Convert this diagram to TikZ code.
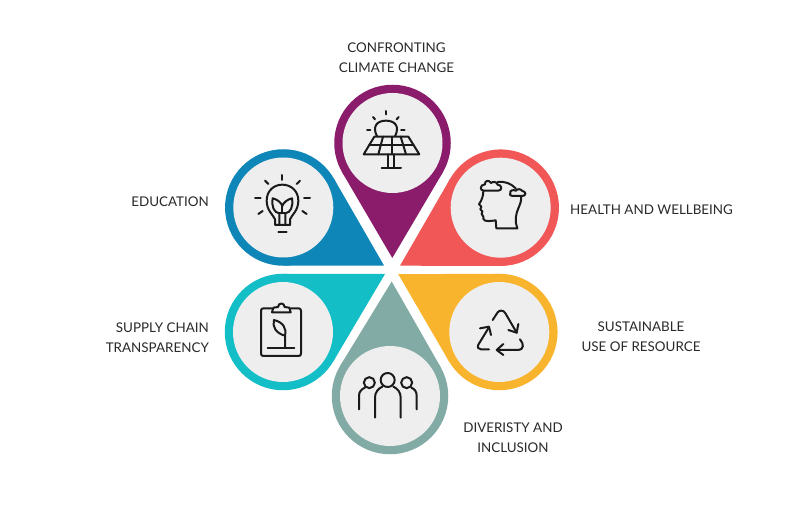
\documentclass[tikz,border=0pt]{standalone}
\usepackage{fontspec}
\setmainfont{Lato}
\usetikzlibrary{calc}
\definecolor{cpurple}{HTML}{8A1C6B}
\definecolor{cred}{HTML}{F25757}
\definecolor{cblue}{HTML}{0F86B8}
\definecolor{cteal}{HTML}{13BEC6}
\definecolor{cyellow}{HTML}{F9B42D}
\definecolor{cgreen}{HTML}{82ABA6}
\definecolor{cdisc}{HTML}{EEEEEE}
\definecolor{cink}{HTML}{1A1A1A}
\definecolor{ctext}{HTML}{2A2A2A}
\tikzset{
  outerdisc/.style={circle,minimum size=116.5pt,inner sep=0pt,outer sep=0pt,fill=#1},
  innerdisc/.style={circle,minimum size=100pt,inner sep=0pt,outer sep=0pt,fill=cdisc},
  icon/.style={draw=cink,line width=2pt,line cap=round,line join=round},
  label/.style={text=ctext,font=\fontsize{13.4}{20}\selectfont,inner sep=0pt},
}
\newcommand{\petal}[6]{%
  \node[outerdisc=#6] (#1o) at (#2,#3) {};
  \coordinate (#1t) at (#4,#5);
  \fill[#6] (#1t) -- (tangent cs:node=#1o,point={(#1t)},solution=1)
     -- (#1o.center) -- (tangent cs:node=#1o,point={(#1t)},solution=2) -- cycle;
  \node[innerdisc] (#1i) at (#2,#3) {};
}
\begin{document}
\begin{tikzpicture}[x=1pt,y=-1pt]
\useasboundingbox (0,0) rectangle (800,518);
\fill[white] (0,0) rectangle (800,518);
\petal{climate}{392.5}{143}{392.3}{258}{cpurple}
\petal{health}{500.7}{207.7}{400}{265.7}{cred}
\petal{edu}{283.3}{207.5}{384}{265.5}{cblue}
\petal{supply}{283}{332}{385}{274}{cteal}
\petal{diverse}{390}{396}{391.7}{281.5}{cgreen}
\petal{sustain}{499.3}{332}{398.3}{274.2}{cyellow}

% solar panel
\begin{scope}[shift={(355,105)},scale=1/3]
\draw[icon] (66,94) .. controls (50,62) and (68,47) .. (93,47) .. controls (118,47) and (136,62) .. (120,94);
\foreach \a/\b/\c/\d in {92/18/92/28,54/36/60/43,131/36/125/43,36/75/46/75,138/75/149/75}
  \draw[icon] (\a,\b) -- (\c,\d);
\draw[icon] (58,95) -- (160,95) -- (193,148) -- (26,148) -- cycle;
\draw[icon] (42,121) -- (176,121);
\draw[icon] (84,95) -- (70,148);
\draw[icon] (110,95) -- (110,148);
\draw[icon] (137,95) -- (153,148);
\draw[icon] (100,148) -- (100,188) (118,148) -- (118,188) (80,188) -- (138,188);
\end{scope}

% head with clouds
\begin{scope}[shift={(465,170)},scale=1/3]
\draw[icon] (56,62) -- (100,62) .. controls (112,62) and (112,44) .. (98,44)
  .. controls (95,34) and (83,34) .. (78,39) .. controls (72,28) and (58,32) .. (60,43)
  .. controls (44,44) and (44,62) .. (56,62);
\draw[icon] (142,78) -- (172,78) .. controls (184,78) and (184,64) .. (172,63)
  .. controls (168,56) and (156,56) .. (153,62) .. controls (144,58) and (134,62) .. (136,68)
  .. controls (132,74) and (136,78) .. (142,78);
\draw[icon] (98,36) .. controls (118,33) and (138,40) .. (153,56);
\draw[icon] (55,62) .. controls (55,75) and (52,88) .. (42,103) -- (49,110) -- (46,118) -- (52,124)
  -- (50,132) -- (55,140) .. controls (53,152) and (60,156) .. (92,151) -- (94,175) -- (157,175)
  .. controls (148,155) and (153,130) .. (160,115) .. controls (165,103) and (170,92) .. (168,80);
\end{scope}

% light bulb
\begin{scope}[shift={(250,170)},scale=1/3]
\foreach \a/\b/\c/\d in {97/15/97/30,45/32/55/42,150/32/140/42,15/83/32/83,162/83/180/83,25/132/38/123,170/132/157/123,85/186/110/186}
  \draw[icon] (\a,\b) -- (\c,\d);
\draw[icon] (75,165) -- (75,148) .. controls (70,135) and (50,122) .. (50,92)
  .. controls (50,62) and (72,44) .. (97,44) .. controls (122,44) and (145,62) .. (145,92)
  .. controls (145,122) and (125,135) .. (120,148) -- (120,165) -- cycle;
\draw[icon] (88,165) -- (88,130) .. controls (72,128) and (64,110) .. (68,85)
  .. controls (82,88) and (94,98) .. (97,108) .. controls (100,98) and (112,88) .. (126,85)
  .. controls (130,110) and (122,128) .. (106,130) -- (106,165);
\draw[icon] (97,108) -- (97,130);
\draw[icon] (88,130) -- (106,130);
\end{scope}

% clipboard
\begin{scope}[shift={(250,295)},scale=1/3]
\draw[icon] (66,40) -- (41,40) .. controls (35,40) and (33,42) .. (33,48) -- (33,175)
  .. controls (33,181) and (35,183) .. (41,183) -- (145,183) .. controls (151,183) and (153,181) .. (153,175)
  -- (153,48) .. controls (153,42) and (151,40) .. (145,40) -- (122,40);
\draw[icon] (66,52) -- (122,52) -- (118,38) -- (104,36) .. controls (103,22) and (85,22) .. (84,36) -- (70,38) -- cycle;
\draw[icon] (53,158) -- (133,158);
\draw[icon] (105,158) -- (105,122) .. controls (110,100) and (100,82) .. (72,75)
  .. controls (66,95) and (78,115) .. (105,122);
\end{scope}

% people
\begin{scope}[shift={(350,365)},scale=1/3]
\draw[icon] (113,45) circle[radius=21];
\draw[icon] (58,53) circle[radius=16.5];
\draw[icon] (170,53) circle[radius=16.5];
\draw[icon] (75,158) -- (75,97) .. controls (75,82) and (85,70) .. (97,65);
\draw[icon] (152,158) -- (152,97) .. controls (152,82) and (142,70) .. (130,65);
\draw[icon] (27,133) -- (27,92) .. controls (27,80) and (35,72) .. (45,68);
\draw[icon] (200,133) -- (200,92) .. controls (200,80) and (194,72) .. (184,68);
\end{scope}

% recycling arrows
\begin{scope}[shift={(465,300)},scale=1/3]
\draw[icon] (83,60) -- (98,37) .. controls (104,30) and (114,30) .. (120,38) -- (155,98);
\draw[icon] (130,90) -- (155,98) -- (160,72);
\draw[icon] (72,148) -- (48,148) .. controls (40,148) and (36,142) .. (40,134) -- (70,85);
\draw[icon] (45,85) -- (72,80) -- (78,105);
\draw[icon] (165,118) .. controls (178,132) and (176,150) .. (160,150) -- (97,150);
\draw[icon] (115,132) -- (95,150) -- (115,165);
\end{scope}

\node[label,align=center] (lclimate) at (396.5,57.8) {CONFRONTING\\CLIMATE CHANGE};
\node[label,anchor=east] (ledu) at (209,201.8) {EDUCATION};
\node[label,anchor=west] (lhealth) at (570,210.2) {HEALTH AND WELLBEING};
\node[label,align=right,anchor=east] (lsupply) at (209,337.3) {SUPPLY CHAIN\\TRANSPARENCY};
\node[label,align=center] (lsustain) at (641,336.8) {SUSTAINABLE\\USE OF RESOURCE};
\node[label,align=center] (ldiverse) at (513,437.8) {DIVERISTY AND\\INCLUSION};
\end{tikzpicture}
\end{document}
